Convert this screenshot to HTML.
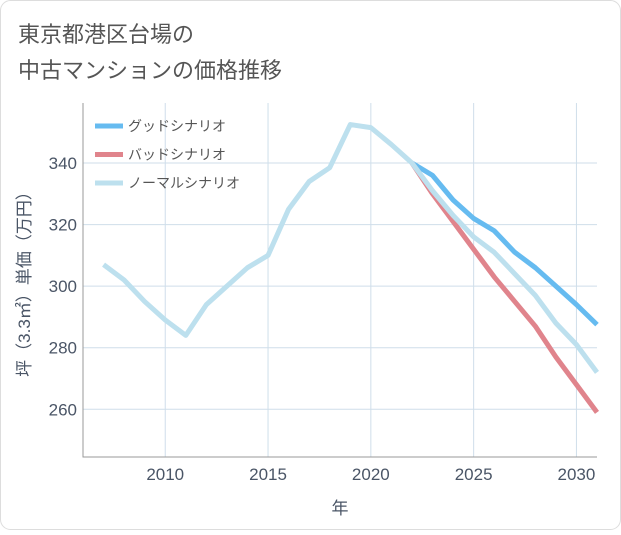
<!DOCTYPE html>
<html><head><meta charset="utf-8">
<style>
body{margin:0;background:#fff;font-family:"Liberation Sans","Noto Sans CJK JP",sans-serif;}
#wrap{position:relative;width:621px;height:530px;}
</style></head><body>
<div id="wrap">
<svg id="chart" width="621" height="530" xmlns="http://www.w3.org/2000/svg">
<rect x="0.5" y="0.5" width="620" height="529" rx="10" fill="#fff" stroke="#ddd"/>
<text x="18" y="42" font-size="22" fill="#555">東京都港区台場の</text>
<text x="18" y="78" font-size="22" fill="#555">中古マンションの価格推移</text>
<g id="grid"></g>
<g id="series"></g>
<g id="axes"></g>
<g id="legend"></g>
</svg>
</div>
<script>
const years=[2007,2008,2009,2010,2011,2012,2013,2014,2015,2016,2017,2018,2019,2020,2021,2022,2023,2024,2025,2026,2027,2028,2029,2030,2031];
const normal=[307,302,295,289,284,294,300,306,310,325,334,338.5,352.5,351.5,346,340,331,323,316,311,304,297,288,281,272];
const goodYears=[2022,2023,2024,2025,2026,2027,2028,2029,2030,2031];
const good=[340,336,328,322,318,311,306,300,294,287.5];
const bad=[340,330,321,312,303,295,287,277,268,259];
const xTicks=[2010,2015,2020,2025,2030];
const yTicks=[260,280,300,320,340];
const L=83,R=597,T=103,B=457;
const x0=2006,x1=2031,y0=244.5,y1=359.5;
const sx=v=>L+(v-x0)/(x1-x0)*(R-L);
const sy=v=>B-(v-y0)/(y1-y0)*(B-T);
const NS='http://www.w3.org/2000/svg';
function mk(tag,attrs,parent){const e=document.createElementNS(NS,tag);for(const k in attrs)e.setAttribute(k,attrs[k]);document.getElementById(parent).appendChild(e);return e;}
for(const t of xTicks){const e=mk('line',{x1:sx(t),x2:sx(t),y1:T,y2:B,stroke:'#cfdeea','stroke-width':1},'grid');


const tx=mk('text',{x:sx(t),y:B+23,'font-size':17,fill:'#4a5566','text-anchor':'middle'},'axes');tx.textContent=t;

}
for(const t of yTicks){const e=mk('line',{x1:L,x2:R,y1:sy(t),y2:sy(t),stroke:'#cfdeea','stroke-width':1},'grid');


const tx=mk('text',{x:L-6,y:sy(t)+6,'font-size':17,fill:'#4a5566','text-anchor':'end'},'axes');tx.textContent=t;

}
const ax=mk('path',{d:`M${L},${T}V${B}H${R}`,fill:'none',stroke:'#999','stroke-width':1},'axes');


const xt=mk('text',{x:(L+R)/2,y:514,'font-size':17,fill:'#4a5566','text-anchor':'middle'},'axes');xt.textContent='年';


const yt=mk('text',{x:0,y:0,'font-size':17,fill:'#4a5566','text-anchor':'middle',transform:`translate(30,${(T+B)/2}) rotate(-90)`},'axes');yt.textContent='坪（3.3㎡）単価（万円）';


function line(xs,ys,color,name){const d=xs.map((v,i)=>(i?'L':'M')+sx(v)+','+sy(ys[i])).join('');
const p=mk('path',{d,fill:'none',stroke:color,'stroke-width':5,'stroke-linejoin':'round'},'series');

}
line(goodYears,good,'#66bbf0','good-scenario-line');
line(goodYears,bad,'#e0848c','bad-scenario-line');
line(years,normal,'#bde0ee','normal-scenario-line');
const leg=[['グッドシナリオ','#66bbf0','good'],['バッドシナリオ','#e0848c','bad'],['ノーマルシナリオ','#bde0ee','normal']];
leg.forEach((l,i)=>{const y=126+i*28.5;
const s=mk('line',{x1:95,x2:123,y1:y,y2:y,stroke:l[1],'stroke-width':5},'legend');


const t=mk('text',{x:128,y:y+5,'font-size':14,fill:'#555'},'legend');t.textContent=l[0];

});
</script>
</body></html>
